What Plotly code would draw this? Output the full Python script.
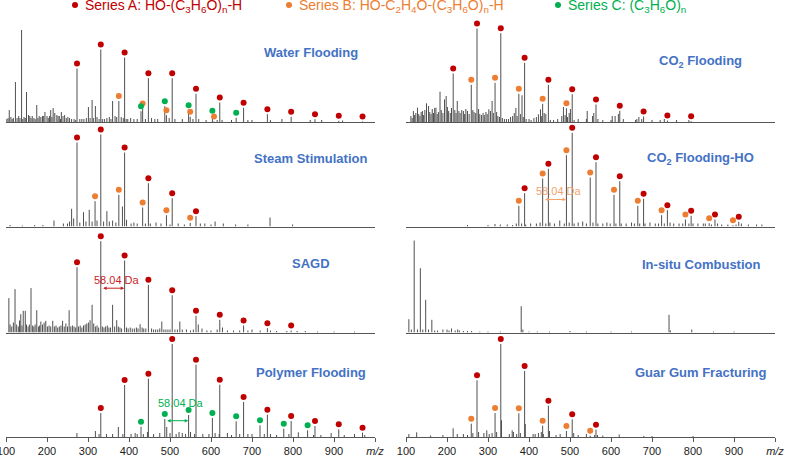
import plotly.graph_objects as go

# ---------------- data ----------------
# Series m/z values (Na+ adducts)
A_MZ = [215.1, 273.2, 331.2, 389.3, 447.3, 505.4, 563.4, 621.4, 679.5, 737.5, 795.5, 853.6, 911.6, 969.6]
B_MZ = [259.2, 317.2, 375.2, 433.3, 491.3, 549.3, 607.4, 665.4, 723.4, 781.5, 839.5, 897.5]
C_MZ = [429.3, 487.3, 545.4, 603.4, 661.4, 719.5, 777.5, 835.6]

PANEL_NAMES = ["Water Flooding", "Steam Stimulation", "SAGD", "Polymer Flooding",
               "CO<sub>2</sub> Flooding", "CO<sub>2</sub> Flooding-HO",
               "In-situ Combustion", "Guar Gum Fracturing"]

# relative intensities of labelled peaks (None = not labelled)
WATER_A = [None, 53.5, 72.5, 64.5, 43.8, 43.8, 28.2, 19.5, 14.2, 7.8, 5.2, 2.8, 1.2, 0.5]
WATER_B = [None, None, 21, 13.5, 6.8, 5.2, 0.5]
WATER_C = [10.8, 15.8, 11.8, 6.2, 4.2]

STEAM_A = [None, 84, 92, 74, 43.3, 28.3, 10.3]
STEAM_B = [None, 25.3, 31.7, 19, 11.3, 3.7]
STEAM_C = []

SAGD_A = [None, 65.3, 91.3, 72, 47.7, 37.3, 16.7, 12.7, 7, 4.3, 2]
SAGD_B = []
SAGD_C = []

POLY_A = [None, None, 24, 52, 58.3, 93, 72.3, 52.3, 35, 22.3, 16, 11, 7.7, 4.3]
POLY_B = []
POLY_C = [10.3, 18, 22, 19, 15.7, 11.7, 8.3, 6.7]

CO2_A = [48.5, 93.5, 88.8, 59.2, 37.2, 27.8, 17.5, 11.2, 5.5, 1.5, 0.8]
CO2_B = [37.2, 39.2, 28.2, 18.2, 13.8]
CO2_C = []

CO2HO_A = [None, None, None, 33.3, 57.7, 93.7, 64.3, 45.3, 27.7, 16.3, 10.7, 7, 4.7]
CO2HO_B = [None, None, 20.7, 48, 71.3, 49, 31.7, 20.7, 11.3, 7, 3.3, 1.3]
CO2HO_C = []

INSITU_A = []
INSITU_B = []
INSITU_C = []

GUAR_A = [None, 56.7, 93, 66, 31.3, 17.7, 7.3]
GUAR_B = [13.3, 24, 23.7, 11.3, 6, 1.3]
GUAR_C = []

# unlabelled peaks
WATER_N_MZ = [102, 105, 108, 112, 115, 118, 123, 127, 131, 134, 138, 141, 144, 147, 150, 155, 158, 161, 164, 168,
              171, 175, 178, 181, 185, 189, 192, 195, 200, 203, 206, 209, 212, 215, 219, 224, 227, 230, 233, 235,
              239, 243, 247, 251, 255, 260, 266, 270, 280, 285, 290, 296, 301, 305, 310, 313, 318, 322, 327, 335,
              340, 346, 352, 356, 360, 366, 370, 381, 386, 393, 397, 404, 412, 420, 440, 455, 463, 470, 498, 512,
              530, 556, 570, 588, 615, 627, 650, 690, 700, 745, 773, 842, 870, 921]
WATER_N_H = [3, 4, 12, 5, 3, 4, 40, 4, 6, 4, 92, 3, 5, 4, 30, 7, 6, 4, 6, 4,
             3, 17, 4, 6, 5, 6, 6, 10, 6, 4, 6, 12, 5, 14, 9, 7, 6, 6, 3, 10,
             6, 7, 4, 5, 4, 3, 3, 2, 3, 3, 3, 4, 15, 4, 22, 4, 16, 5, 3, 3,
             3, 4, 5, 3, 21, 6, 5, 5, 4, 3, 3, 4, 3, 3, 3, 4, 3, 3, 4, 3,
             3, 3, 3, 2, 2, 2, 2, 2, 2, 2, 3, 2, 2, 1.5]

STEAM_N_MZ = [110, 140, 170, 190, 217, 240, 250, 255, 260, 265, 280, 289, 295, 303, 310, 322, 338, 346, 352, 360,
              368, 384, 394, 405, 412, 420, 440, 452, 466, 478, 500, 520, 535, 574, 585, 600, 610, 630, 660, 690,
              744, 799]
STEAM_N_H = [1.5, 1, 1.5, 1.5, 6, 3, 3, 5, 17.7, 8, 4, 14.3, 5, 16.7, 5, 6, 5, 15.3, 5, 6,
             4, 20, 6.7, 3, 4, 3, 3, 3, 4, 3, 2, 3, 2, 3, 3, 2, 5, 3, 2, 2,
             9, 2]

SAGD_N_MZ = [107, 110, 114, 118, 122, 126, 130, 133, 136, 139, 142, 147, 150, 154, 157, 161, 165, 168, 171, 175,
             179, 182, 185, 189, 193, 197, 201, 205, 209, 214, 218, 222, 226, 230, 234, 238, 242, 246, 250, 254,
             258, 262, 266, 270, 277, 281, 285, 289, 293, 297, 301, 305, 310, 314, 318, 322, 326, 335, 339, 343,
             347, 351, 355, 360, 365, 370, 374, 378, 382, 394, 398, 403, 408, 413, 418, 422, 427, 432, 436, 441,
             455, 460, 465, 470, 475, 480, 485, 490, 495, 500, 512, 518, 524, 530, 540, 550, 557, 569, 578, 590,
             600, 615, 628, 640, 655, 670, 690, 700, 720, 745, 760, 785, 810, 830, 860, 900, 950]
SAGD_N_H = [34.4, 8, 6, 10, 43.4, 8, 6, 12, 18.3, 7, 21.7, 21.7, 8, 6, 8, 44.4, 7, 6, 8, 22.3,
            6, 7, 11, 8, 10, 11.7, 6, 7, 6, 11.7, 6, 7, 5, 6, 7, 11.7, 6, 9, 6, 22.3,
            6, 7, 6, 5, 6, 7, 5, 7, 8, 9, 10, 12.3, 27.7, 9, 6, 7, 5, 6, 5, 6,
            7, 5, 5, 27.7, 6, 12.3, 6, 5, 4, 5, 4, 5, 4, 4, 5, 4, 8.3, 5, 4, 4,
            4, 3, 3, 3, 4, 11, 3, 3, 3, 3, 3, 3, 11, 3, 3, 2, 3, 8, 4, 2,
            2, 3, 5, 2, 2, 2, 2, 3, 2, 2, 1.5, 1.5, 1.5, 1.5, 1, 1, 1]

POLY_N_MZ = [273, 318, 327, 345, 360, 374, 385, 405, 415, 420, 435, 445, 460, 475, 492, 500, 515, 522, 530, 538,
             550, 560, 580, 595, 610, 620, 640, 650, 670, 690, 700, 730, 745, 760, 790, 813, 850, 868, 893, 925,
             950, 975]
POLY_N_H = [4, 6, 3, 3, 3, 10, 3, 3, 4, 3, 3, 5, 3, 4, 10, 4, 3, 5, 4, 3,
            5, 3, 3, 3, 4, 3, 4, 2, 3, 3, 3, 3, 3, 2, 3, 4.7, 2, 2, 4, 2,
            3, 2]

CO2_N_MZ = [112, 115, 118, 121, 124, 128, 131, 134, 137, 140, 143, 146, 150, 155, 158, 161, 164, 167, 170, 173,
            176, 179, 183, 186, 190, 194, 198, 201, 204, 208, 211, 219, 222, 225, 229, 232, 236, 240, 243, 246,
            250, 254, 263, 266, 270, 277, 280, 284, 288, 291, 295, 298, 302, 306, 310, 313, 321, 324, 328, 335,
            340, 345, 350, 355, 360, 364, 368, 371, 379, 383, 386, 393, 400, 405, 412, 418, 423, 428, 430, 437,
            441, 452, 460, 470, 480, 484, 488, 494, 498, 501, 510, 520, 540, 542, 555, 558, 568, 580, 600, 603,
            610, 618, 630, 660, 663, 668, 675, 700, 720, 730, 760, 790]
CO2_N_H = [6, 4, 11, 7, 9, 14.3, 8, 6, 10, 11, 7, 12, 18.7, 16, 10, 8, 13, 9, 14, 14.3,
           8, 10, 30.3, 12, 9, 22.7, 26, 15, 11, 9, 14, 12, 9, 21, 11, 9, 12, 11, 8, 13,
           11, 8, 12, 10, 9, 13, 8, 7, 9, 7, 10, 8, 12.7, 11, 21, 9, 10, 6, 5, 4,
           3, 3, 3, 5, 6, 9, 14, 6, 8, 26.7, 5, 3, 3, 2, 4, 5, 7.7, 12.7, 6, 9,
           8, 2, 2, 3, 6, 15, 7, 5, 9, 13, 2, 3, 3, 11, 6, 9, 3, 2, 2, 6,
           6, 8, 3, 2, 3, 5, 3, 2, 2, 3, 2, 2]

CO2HO_N_MZ = [250, 300, 317, 330, 347, 360, 369, 382, 392, 404, 418, 427, 441, 451, 462, 475, 486, 498, 510, 520,
              531, 540, 556, 568, 580, 590, 598, 612, 625, 637, 650, 657, 670, 683, 695, 708, 716, 730, 744, 753,
              766, 775, 790, 800, 812, 825, 830, 845, 860, 870, 885, 905, 918, 935, 955, 968]
CO2HO_N_H = [1.5, 1.5, 2.5, 2, 2, 1.5, 3, 3, 2, 3, 3, 4, 3, 4, 3, 6, 3, 4, 3, 4,
             5, 3, 4, 3, 3, 4, 3, 3, 3, 3, 4, 3, 3, 3, 4, 3, 3, 3, 4, 3,
             3, 3, 3, 3, 3, 3, 3, 2, 3, 2, 2, 2, 3, 2, 2, 2]

INSITU_N_MZ = [107, 113, 120, 128, 135, 141, 148, 155, 163, 170, 177, 190, 200, 205, 211, 220, 226, 230, 240, 250,
               260, 280, 300, 330, 381, 385, 400, 420, 450, 500, 540, 600, 650, 741.5, 745, 797, 850, 900]
INSITU_N_H = [13.3, 3, 92, 3, 64.3, 3, 32.7, 3, 12.7, 2, 2, 3, 3, 2, 4, 2, 3, 2, 1.5, 1.5,
              1.5, 1, 1, 1, 26.3, 3, 1, 1, 1, 1.5, 1, 1, 1, 17.7, 2, 3, 1, 1]

GUAR_N_MZ = [107, 126, 160, 190, 215, 225, 240, 250, 263, 277, 290, 297, 303, 310, 321, 333, 352, 359, 362, 370,
             379, 391, 410, 415, 423, 430, 435, 450, 466, 476, 509, 520, 540, 560, 567, 580, 620, 680, 700, 800]
GUAR_N_H = [3, 4.7, 1.5, 2, 8.7, 3, 3, 2, 4, 5, 4, 6.7, 3, 4, 5, 16.7, 3, 6.7, 5, 3,
            4, 13, 3, 3, 4, 5, 3, 6, 2, 3, 4, 2, 3, 2, 2, 1.5, 2.5, 1, 1, 1]

TICK_VALS = [100, 200, 300, 400, 500, 600, 700, 800, 900, 1000]
TICK_TEXT = ["100", "200", "300", "400", "500", "600", "700", "800", "900", "<i>m/z</i>"]

# ---------------- style ----------------
RED, ORANGE, GREEN = "#C00000", "#ED7D31", "#00B050"
TITLE_BLUE = "#4472C4"
STICK = "#505050"
AXIS = "#555555"
FONT = "Liberation Sans, Arial, sans-serif"
OFFSET = 5  # marker sits above peak top

W, H = 785, 459
MB = 22
PH = H - MB  # plot-area height in px

def py(px):
    return (PH - px) / PH

def pxx(px):
    return px / W

panels = [
    dict(name=PANEL_NAMES[0], A=WATER_A, B=WATER_B, C=WATER_C, nmz=WATER_N_MZ, nh=WATER_N_H, col=0, row=0, ty=52.7),
    dict(name=PANEL_NAMES[1], A=STEAM_A, B=STEAM_B, C=STEAM_C, nmz=STEAM_N_MZ, nh=STEAM_N_H, col=0, row=1, ty=158.3),
    dict(name=PANEL_NAMES[2], A=SAGD_A, B=SAGD_B, C=SAGD_C, nmz=SAGD_N_MZ, nh=SAGD_N_H, col=0, row=2, ty=263.5),
    dict(name=PANEL_NAMES[3], A=POLY_A, B=POLY_B, C=POLY_C, nmz=POLY_N_MZ, nh=POLY_N_H, col=0, row=3, ty=372.3),
    dict(name=PANEL_NAMES[4], A=CO2_A, B=CO2_B, C=CO2_C, nmz=CO2_N_MZ, nh=CO2_N_H, col=1, row=0, ty=61.7),
    dict(name=PANEL_NAMES[5], A=CO2HO_A, B=CO2HO_B, C=CO2HO_C, nmz=CO2HO_N_MZ, nh=CO2HO_N_H, col=1, row=1, ty=158.3),
    dict(name=PANEL_NAMES[6], A=INSITU_A, B=INSITU_B, C=INSITU_C, nmz=INSITU_N_MZ, nh=INSITU_N_H, col=1, row=2, ty=264),
    dict(name=PANEL_NAMES[7], A=GUAR_A, B=GUAR_B, C=GUAR_C, nmz=GUAR_N_MZ, nh=GUAR_N_H, col=1, row=3, ty=372.3),
]

BASELINES = [122, 226.5, 332.5, 437]
PANEL_H = 100
XDOM = [[6 / W, 375 / W], [406 / W, 775 / W]]
TITLE_X = [310.5, 700.5]

fig = go.Figure()
layout = dict(
    width=W, height=H, margin=dict(l=0, r=0, t=0, b=MB, autoexpand=False),
    paper_bgcolor="white", plot_bgcolor="rgba(0,0,0,0)",
    showlegend=False, font=dict(family=FONT, color="#222"),
)
annotations = []
shapes = []


def pairs(mzs, hs):
    return [(m, h) for m, h in zip(mzs, hs) if h is not None]


for i, p in enumerate(panels):
    n = i + 1
    xa = "x" if n == 1 else f"x{n}"
    ya = "y" if n == 1 else f"y{n}"
    xkey = "xaxis" if n == 1 else f"xaxis{n}"
    ykey = "yaxis" if n == 1 else f"yaxis{n}"
    base = BASELINES[p["row"]]
    bottom = p["row"] == 3
    layout[xkey] = dict(
        domain=XDOM[p["col"]], anchor=ya, range=[100, 1000], automargin=False,
        showline=True, linecolor=AXIS, linewidth=1.3, showgrid=False, zeroline=False,
        ticks="outside" if bottom else "", ticklen=4, tickcolor=AXIS, tickwidth=1,
        tickvals=TICK_VALS, ticktext=TICK_TEXT, showticklabels=bottom,
        ticklabeloverflow="allow",
        tickfont=dict(size=11, color="#222", family=FONT), fixedrange=True,
    )
    layout[ykey] = dict(domain=[py(base), py(base - PANEL_H)], anchor=xa, range=[0, PANEL_H],
                        visible=False, fixedrange=True, automargin=False)

    a = pairs(A_MZ, p["A"])
    b = pairs(B_MZ, p["B"])
    c = pairs(C_MZ, p["C"])
    nz = pairs(p["nmz"], p["nh"])
    xs, ys = [], []
    for m, h in nz + a + b + c:
        xs += [m, m, None]
        ys += [0, h, None]
    fig.add_trace(go.Scatter(x=xs, y=ys, mode="lines", xaxis=xa, yaxis=ya,
                             line=dict(color=STICK, width=1), hoverinfo="skip"))
    for ser, colr in ((b, ORANGE), (c, GREEN), (a, RED)):
        if ser:
            fig.add_trace(go.Scatter(x=[m for m, _ in ser], y=[h + OFFSET for _, h in ser],
                                     mode="markers", xaxis=xa, yaxis=ya, cliponaxis=False,
                                     marker=dict(color=colr, size=6, line=dict(width=0))))
    annotations.append(dict(text=f"<b>{p['name']}</b>", xref="paper", yref="paper",
                            x=pxx(TITLE_X[p["col"]]), y=py(p["ty"]), xanchor="center", yanchor="middle",
                            showarrow=False, font=dict(size=13, color=TITLE_BLUE, family=FONT)))

# 58.04 Da spacing annotations: (panel index, from, to, arrow h, text x, text h, colour)
SPACINGS = [
    (3, A_MZ[2], A_MZ[3], 44.3, 371, 52.7, "#C81E1E"),
    (4, C_MZ[1], C_MZ[2], 16.3, 528, 34.3, "#00B050"),
    (6, B_MZ[3], B_MZ[4], 27, 473, 35.3, "#F3A46C"),
]
for n, x0, x1, yh, tx, th, colr in SPACINGS:
    xa = "x" if n == 1 else f"x{n}"
    ya = "y" if n == 1 else f"y{n}"
    annotations.append(dict(x=x1 - 1, y=yh, ax=x0 + 2, ay=yh, xref=xa, yref=ya, axref=xa, ayref=ya,
                            text="", showarrow=True, arrowside="end+start", arrowhead=2, startarrowhead=2,
                            arrowsize=0.7, startarrowsize=0.7, arrowwidth=1, arrowcolor=colr, standoff=0,
                            startstandoff=0))
    annotations.append(dict(x=tx, y=th, xref=xa, yref=ya, text="58.04 Da", showarrow=False,
                            xanchor="center", yanchor="middle", font=dict(size=11, color=colr, family=FONT)))

# legend row at the top
LEG = [
    (75, 83, RED, "Series A: HO-(C<sub>3</sub>H<sub>6</sub>O)<sub>n</sub>-H"),
    (289, 297, ORANGE, "Series B: HO-C<sub>2</sub>H<sub>4</sub>O-(C<sub>3</sub>H<sub>6</sub>O)<sub>n</sub>-H"),
    (558, 566, GREEN, "Series C: (C<sub>3</sub>H<sub>6</sub>O)<sub>n</sub>"),
]
for dx, tx, colr, txt in LEG:
    shapes.append(dict(type="circle", xref="paper", yref="paper", xsizemode="pixel", ysizemode="pixel",
                       xanchor=pxx(dx), yanchor=py(5), x0=-3, x1=3, y0=-3, y1=3,
                       fillcolor=colr, line=dict(width=0)))
    annotations.append(dict(text=txt, xref="paper", yref="paper", x=pxx(tx), y=py(5.5),
                            xanchor="left", yanchor="middle", showarrow=False,
                            font=dict(size=14, color=colr, family=FONT)))

layout["annotations"] = annotations
layout["shapes"] = shapes
fig.update_layout(**layout)
fig.write_html("out.html", config={"displayModeBar": False},
               post_script="document.body.style.margin='0px';document.body.style.overflow='hidden';")
